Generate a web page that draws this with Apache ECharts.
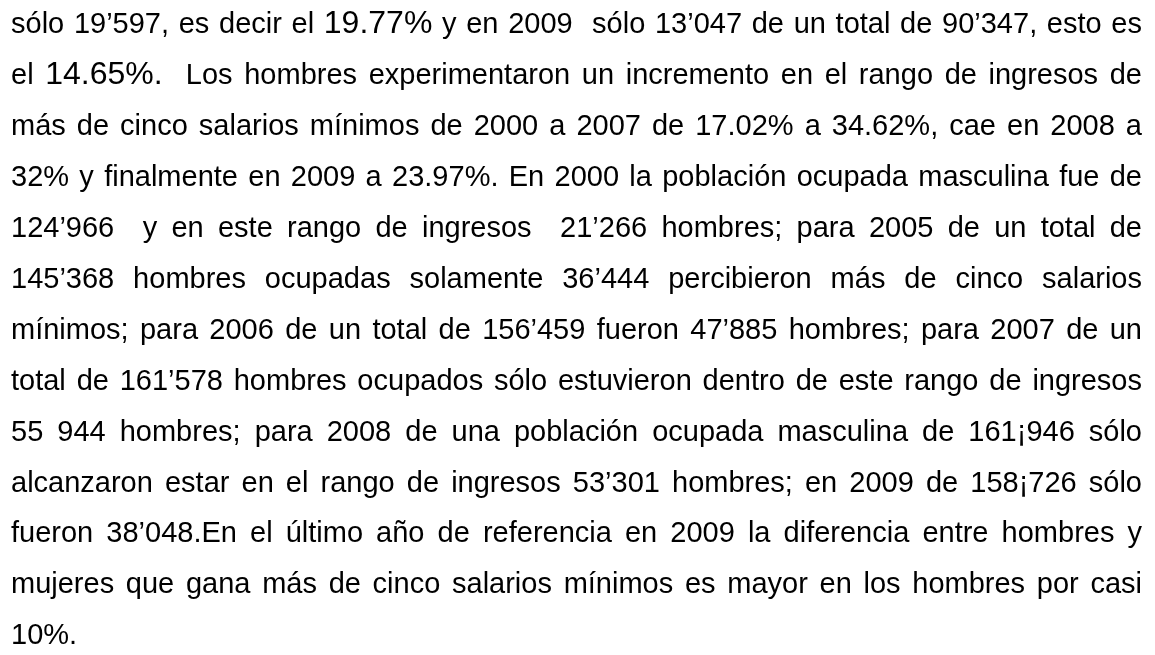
<!DOCTYPE html>
<html>
<head>
<meta charset="utf-8">
<script src="https://cdn.jsdelivr.net/npm/echarts@6/dist/echarts.min.js"></script>
<style>
  html, body { margin: 0; background: #fff; }
  #main { width: 1155px; height: 655px; }
</style>
</head>
<body>
<div id="main"></div>
<script>
  // paragraph lines, as broken in the original (justified)
  const lines = [
    'sólo 19’597, es decir el 19.77% y en 2009  sólo 13’047 de un total de 90’347, esto es',
    'el 14.65%.  Los hombres experimentaron un incremento en el rango de ingresos de',
    'más de cinco salarios mínimos de 2000 a 2007 de 17.02% a 34.62%, cae en 2008 a',
    '32% y finalmente en 2009 a 23.97%. En 2000 la población ocupada masculina fue de',
    '124’966  y en este rango de ingresos  21’266 hombres; para 2005 de un total de',
    '145’368 hombres ocupadas solamente 36’444 percibieron más de cinco salarios',
    'mínimos; para 2006 de un total de 156’459 fueron 47’885 hombres; para 2007 de un',
    'total de 161’578 hombres ocupados sólo estuvieron dentro de este rango de ingresos',
    '55 944 hombres; para 2008 de una población ocupada masculina de 161¡946 sólo',
    'alcanzaron estar en el rango de ingresos 53’301 hombres; en 2009 de 158¡726 sólo',
    'fueron 38’048.En el último año de referencia en 2009 la diferencia entre hombres y',
    'mujeres que gana más de cinco salarios mínimos es mayor en los hombres por casi',
    '10%.'
  ];
  // tokens set in a slightly larger size
  const bigTokens = ['19.77%', '14.65%.'];

  const fontFamily = '"Liberation Sans", Arial, sans-serif';
  const fontSize = 29;
  const bigSize = 32;
  const left = 11;
  const right = 1142;
  const firstBaseline = 35.5;
  const lineGap = 50.9;

  const ctx = document.createElement('canvas').getContext('2d');
  function measure(txt, size) {
    ctx.font = size + 'px ' + fontFamily;
    return ctx.measureText(txt).width;
  }

  const elements = [];
  lines.forEach((line, i) => {
    const tokens = line.split(' ');
    const sizes = tokens.map(t => bigTokens.includes(t) ? bigSize : fontSize);
    const widths = tokens.map((t, k) => t ? measure(t, sizes[k]) : 0);
    const total = widths.reduce((a, b) => a + b, 0);
    const isLast = i === lines.length - 1;
    const gap = isLast || tokens.length < 2
      ? measure(' ', fontSize)
      : (right - left - total) / (tokens.length - 1);
    const baseline = firstBaseline + i * lineGap;
    let x = left;
    tokens.forEach((t, k) => {
      if (t) {
        elements.push({
          type: 'text',
          silent: true,
          style: {
            text: t,
            x: x,
            y: baseline - 0.3465 * sizes[k],
            font: sizes[k] + 'px ' + fontFamily,
            fill: '#000',
            align: 'left',
            verticalAlign: 'middle'
          }
        });
      }
      x += widths[k] + gap;
    });
  });

  const myChart = echarts.init(document.getElementById('main'));
  myChart.setOption({
    backgroundColor: '#fff',
    animation: false,
    graphic: { elements: elements }
  });
</script>
</body>
</html>
